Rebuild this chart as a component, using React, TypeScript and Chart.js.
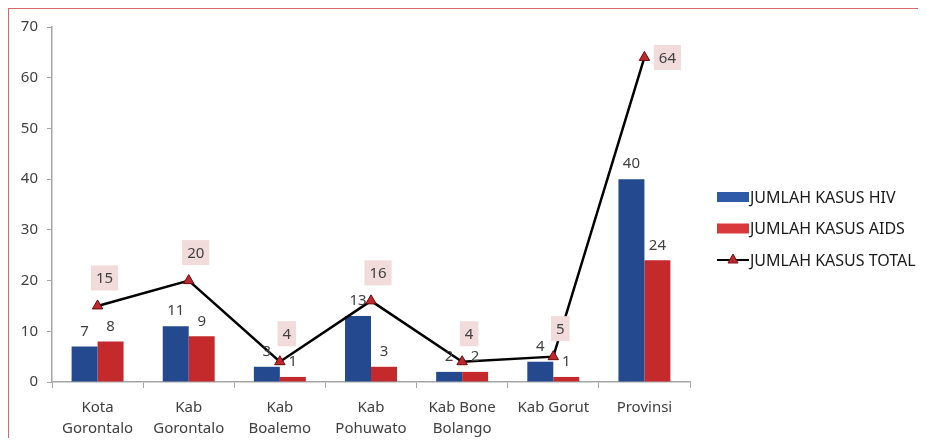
import React, { useEffect, useRef } from "react";
import { Chart, registerables } from "chart.js";

Chart.register(...registerables);

const categories: string[][] = [
  ["Kota", "Gorontalo"],
  ["Kab", "Gorontalo"],
  ["Kab", "Boalemo"],
  ["Kab", "Pohuwato"],
  ["Kab Bone", "Bolango"],
  ["Kab Gorut"],
  ["Provinsi"],
];
const hivCases = [7, 11, 3, 13, 2, 4, 40];
const aidsCases = [8, 9, 1, 3, 2, 1, 24];
const totalCases = [15, 20, 4, 16, 4, 5, 64];
const seriesNames = ["JUMLAH KASUS HIV", "JUMLAH KASUS AIDS", "JUMLAH KASUS TOTAL"];
const yTicks = [0, 10, 20, 30, 40, 50, 60, 70];

const FONT = "'Noto Sans', 'Open Sans', sans-serif";
const TEXT = "#404040";
const BLUE = "#2f5aa8";
const RED = "#d9393b";

function barGradient(ctx: any, base: string, light: string) {
  const chart = ctx.chart;
  const el = ctx.element;
  if (!chart.chartArea || !el) return base;
  const x = el.x;
  const w = el.width;
  if (!isFinite(x) || !isFinite(w) || w <= 0) return base;
  const g = chart.ctx.createLinearGradient(x - w / 2, 0, x + w / 2, 0);
  g.addColorStop(0, base);
  g.addColorStop(0.5, light);
  g.addColorStop(1, base);
  return g;
}

const labelPlugin = {
  id: "valueLabels",
  afterDatasetsDraw(chart: any) {
    const ctx = chart.ctx;
    ctx.save();
    ctx.font = `15px ${FONT}`;
    ctx.fillStyle = TEXT;
    ctx.textAlign = "center";
    ctx.textBaseline = "middle";
    [0, 1].forEach((di) => {
      const meta = chart.getDatasetMeta(di);
      meta.data.forEach((el: any, i: number) => {
        const v = chart.data.datasets[di].data[i];
        ctx.fillText(String(v), el.x, el.y - 15);
      });
    });
    const lm = chart.getDatasetMeta(2);
    const n = lm.data.length;
    lm.data.forEach((el: any, i: number) => {
      const v = String(chart.data.datasets[2].data[i]);
      let cx = el.x + 7;
      let cy = el.y - 28;
      if (i === n - 1) {
        cx = el.x + 23;
        cy = el.y;
      }
      const tw = ctx.measureText(v).width;
      const bw = tw + 10;
      const bh = 25;
      ctx.fillStyle = "#f2dcdb";
      ctx.fillRect(cx - bw / 2, cy - bh / 2, bw, bh);
      ctx.fillStyle = TEXT;
      ctx.fillText(v, cx, cy + 1);
    });
    ctx.restore();
  },
};

const legendPlugin = {
  id: "customLegend",
  afterDraw(chart: any) {
    const ctx = chart.ctx;
    const area = chart.chartArea;
    const x0 = area.right + 27;
    const y0 = area.top + 170;
    ctx.save();
    ctx.font = `16px ${FONT}`;
    ctx.textBaseline = "middle";
    ctx.textAlign = "left";
    const colors = [BLUE, RED];
    seriesNames.forEach((name, i) => {
      const y = y0 + i * 31.5;
      if (i < 2) {
        ctx.fillStyle = colors[i];
        ctx.fillRect(x0, y - 5, 32, 10);
      } else {
        ctx.strokeStyle = "#000";
        ctx.lineWidth = 2;
        ctx.beginPath();
        ctx.moveTo(x0, y);
        ctx.lineTo(x0 + 32, y);
        ctx.stroke();
        ctx.fillStyle = "#c0282d";
        ctx.strokeStyle = "#7a1010";
        ctx.lineWidth = 1;
        ctx.beginPath();
        ctx.moveTo(x0 + 16, y - 6);
        ctx.lineTo(x0 + 21, y + 3);
        ctx.lineTo(x0 + 11, y + 3);
        ctx.closePath();
        ctx.fill();
        ctx.stroke();
      }
      ctx.fillStyle = "#1a1a1a";
      ctx.fillText(name, x0 + 33, y + 1);
    });
    ctx.restore();
  },
};

export default function App() {
  const ref = useRef<HTMLCanvasElement | null>(null);
  useEffect(() => {
    if (!ref.current) return;
    const chart = new Chart(ref.current, {
      data: {
        labels: categories,
        datasets: [
          {
            type: "bar",
            label: seriesNames[0],
            data: hivCases,
            backgroundColor: (c: any) => barGradient(c, "#24498f", "#3a6cc0"),
            categoryPercentage: 0.57,
            barPercentage: 1,
            order: 2,
          },
          {
            type: "bar",
            label: seriesNames[1],
            data: aidsCases,
            backgroundColor: (c: any) => barGradient(c, "#c42a2c", "#e8504f"),
            categoryPercentage: 0.57,
            barPercentage: 1,
            order: 2,
          },
          {
            type: "line",
            label: seriesNames[2],
            data: totalCases,
            borderColor: "#000000",
            borderWidth: 2.5,
            pointStyle: "triangle",
            pointRadius: 6,
            pointBackgroundColor: "#c0282d",
            pointBorderColor: "#6a0a0a",
            pointBorderWidth: 1,
            order: 1,
          },
        ],
      } as any,
      options: {
        animation: false,
        responsive: false,
        layout: { padding: { top: 18, right: 227, left: 0, bottom: 0 } },
        plugins: { legend: { display: false }, tooltip: { enabled: false } },
        scales: {
          x: {
            offset: true,
            grid: {
              offset: true,
              drawOnChartArea: false,
              tickLength: 6,
              color: "#a6a6a6",
            },
            border: { color: "#a6a6a6", width: 1.5 },
            ticks: {
              color: TEXT,
              font: { family: FONT, size: 15, lineHeight: 1.4 },
              maxRotation: 0,
              autoSkip: false,
              padding: 9,
            },
            afterFit: (s: any) => {
              s.height = 56;
            },
          },
          y: {
            min: 0,
            max: 70,
            afterBuildTicks: (s: any) => {
              s.ticks = yTicks.map((v) => ({ value: v }));
            },
            grid: {
              drawOnChartArea: false,
              tickLength: 5,
              color: "#a6a6a6",
            },
            border: { color: "#a6a6a6", width: 1.5 },
            ticks: {
              color: TEXT,
              font: { family: FONT, size: 15 },
              padding: 9,
            },
            afterFit: (s: any) => {
              s.width = 43;
            },
          },
        },
      } as any,
      plugins: [labelPlugin, legendPlugin],
    });
    return () => chart.destroy();
  }, []);
  return (
    <div style={{ width: 918, height: 430, overflow: "hidden" }}>
      <div
        style={{
          width: 960,
          height: 430,
          borderTop: "1px solid #d46a6a",
          borderLeft: "1px solid #d46a6a",
          background: "#fff",
        }}
      >
        <canvas ref={ref} width={908} height={429} style={{ display: "block" }} />
      </div>
    </div>
  );
}
